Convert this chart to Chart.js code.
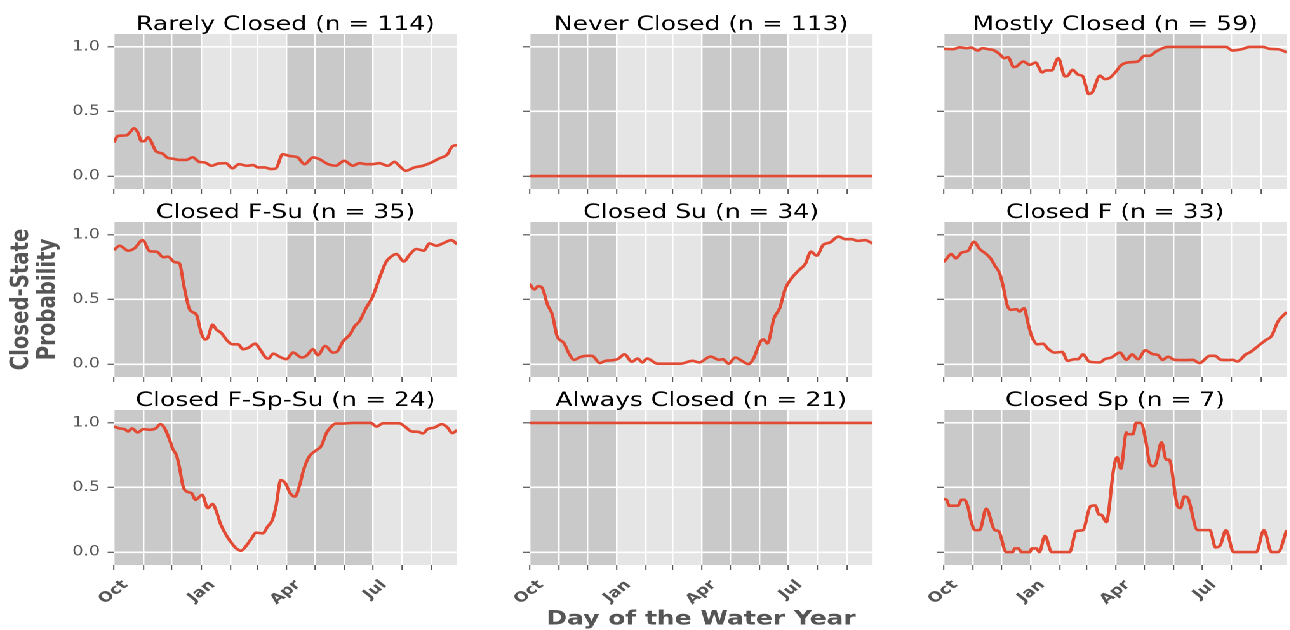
<!DOCTYPE html>
<html>
<head>
<meta charset="utf-8">
<script src="https://cdn.jsdelivr.net/npm/chart.js@4.4.1/dist/chart.umd.min.js"></script>
<style>
  html, body { margin: 0; padding: 0; background: #fff; overflow: hidden; width: 1290px; height: 630px; }
  /* the figure is laid out on a narrower grid and widened horizontally */
  #fig { position: absolute; left: 0; top: 0; width: 1015.75px; height: 630px; transform: scaleX(1.27); transform-origin: 0 0; }
  #fig canvas { position: absolute; }
</style>
</head>
<body>
<div id="fig"></div>
<script>
// ---- axes ----
const monthStarts = [0, 31, 61, 92, 123, 151, 182, 212, 243, 273, 304, 335]; // day of water year
const monthLabels = ['Oct', '', '', 'Jan', '', '', 'Apr', '', '', 'Jul', '', ''];
const probTicks = [0, 0.5, 1.0];
const darkSeasons = [[0, 92], [182, 273]]; // Oct-Dec and Apr-Jun shading

// ---- closed-state probability by day of water year: [day, probability] ----
const rarelyClosed = [[0,0.26],[4,0.31],[13,0.315],[17,0.34],[21,0.37],[25,0.34],[29,0.27],[32,0.27],[36,0.30],[39,0.27],
  [44,0.195],[48,0.18],[51,0.175],[57,0.14],[62,0.135],[69,0.125],[76,0.125],[83,0.145],[90,0.11],[96,0.105],
  [103,0.08],[110,0.097],[118,0.10],[125,0.06],[132,0.092],[140,0.08],[147,0.085],[152,0.067],[159,0.067],[166,0.054],
  [171,0.06],[178,0.17],[185,0.156],[194,0.144],[201,0.092],[210,0.144],[217,0.13],[226,0.092],[234,0.08],[243,0.118],
  [252,0.08],[259,0.10],[266,0.092],[273,0.092],[280,0.10],[289,0.08],[296,0.11],[301,0.08],[308,0.041],[317,0.067],
  [326,0.08],[335,0.105],[343,0.136],[352,0.169],[357,0.23],[362,0.24]];

const neverClosed = [[0,0],[362,0]];

const mostlyClosed = [[0,0.985],[10,0.982],[17,0.997],[24,0.99],[29,0.995],[36,0.972],[41,0.99],[47,0.982],[52,0.977],[59,0.946],
  [64,0.913],[68,0.92],[74,0.844],[77,0.849],[84,0.887],[91,0.862],[97,0.879],[104,0.803],[108,0.818],[114,0.818],
  [121,0.913],[128,0.772],[131,0.777],[136,0.823],[142,0.785],[147,0.772],[150,0.70],[153,0.636],[157,0.649],[165,0.777],
  [170,0.751],[175,0.759],[182,0.81],[187,0.856],[194,0.879],[205,0.887],[212,0.931],[217,0.931],[224,0.964],[233,0.995],
  [238,1],[298,1],[305,0.972],[316,0.985],[323,1],[337,1],[344,0.985],[353,0.982],[362,0.959]];

const closedFSu = [[0,0.883],[6,0.916],[15,0.878],[22,0.898],[30,0.959],[38,0.873],[45,0.87],[52,0.827],[57,0.832],[64,0.789],
  [69,0.781],[74,0.598],[80,0.42],[87,0.382],[92,0.242],[96,0.191],[99,0.204],[104,0.305],[108,0.267],[113,0.242],
  [120,0.178],[125,0.153],[131,0.153],[136,0.115],[142,0.127],[149,0.158],[154,0.115],[160,0.051],[163,0.043],[168,0.081],
  [175,0.056],[182,0.038],[189,0.089],[198,0.051],[203,0.064],[210,0.115],[215,0.069],[223,0.14],[231,0.089],[235,0.094],
  [242,0.178],[249,0.229],[254,0.293],[259,0.331],[266,0.433],[273,0.522],[280,0.662],[287,0.789],[294,0.84],[298,0.852],
  [306,0.794],[312,0.847],[319,0.891],[327,0.878],[333,0.934],[340,0.916],[347,0.934],[356,0.959],[362,0.929]];

const closedSu = [[0,0.623],[5,0.578],[9,0.603],[13,0.593],[19,0.458],[24,0.382],[29,0.216],[36,0.165],[42,0.076],[47,0.033],
  [54,0.056],[61,0.064],[66,0.064],[74,0.008],[80,0.025],[89,0.031],[94,0.043],[100,0.076],[108,0.018],[114,0.043],
  [119,0.013],[124,0.043],[135,0.003],[159,0.003],[172,0.025],[179,0.013],[191,0.058],[200,0.033],[204,0.038],[210,0.003],
  [217,0.051],[224,0.025],[231,0],[236,0.038],[244,0.178],[247,0.191],[251,0.16],[258,0.356],[264,0.433],[270,0.585],
  [277,0.669],[284,0.725],[291,0.776],[297,0.87],[303,0.84],[310,0.924],[317,0.941],[326,0.987],[333,0.967],[340,0.967],
  [346,0.954],[354,0.959],[362,0.934]];

const closedF = [[0,0.789],[3,0.814],[8,0.852],[13,0.819],[19,0.863],[26,0.878],[32,0.947],[38,0.891],[44,0.858],[50,0.814],
  [54,0.763],[59,0.705],[63,0.598],[67,0.458],[71,0.42],[77,0.425],[80,0.407],[85,0.433],[89,0.318],[93,0.216],
  [99,0.153],[105,0.158],[110,0.12],[117,0.089],[125,0.094],[131,0.025],[138,0.038],[142,0.038],[147,0.076],[154,0.018],
  [165,0.013],[170,0.038],[177,0.051],[186,0.089],[193,0.033],[199,0.076],[205,0.038],[213,0.107],[221,0.076],[226,0.071],
  [231,0.033],[237,0.056],[244,0.033],[256,0.031],[263,0.033],[270,0.008],[281,0.064],[286,0.064],[293,0.033],[300,0.031],
  [305,0.033],[310,0.02],[319,0.076],[324,0.094],[332,0.14],[340,0.186],[346,0.216],[353,0.331],[362,0.402]];

const closedFSpSu = [[0,0.972],[6,0.957],[11,0.952],[15,0.934],[19,0.957],[25,0.926],[31,0.952],[38,0.947],[44,0.957],[49,0.99],
  [53,0.964],[59,0.863],[62,0.799],[66,0.748],[69,0.659],[73,0.506],[77,0.468],[82,0.455],[86,0.405],[93,0.443],
  [99,0.341],[104,0.372],[108,0.316],[112,0.226],[118,0.137],[125,0.061],[130,0.023],[134,0.01],[140,0.053],[145,0.104],
  [150,0.15],[157,0.145],[162,0.196],[167,0.247],[171,0.354],[176,0.557],[181,0.532],[186,0.455],[191,0.43],[196,0.519],
  [200,0.634],[206,0.74],[213,0.786],[219,0.824],[224,0.919],[229,0.969],[234,0.995],[242,0.995],[252,1],[271,1],
  [277,0.972],[284,0.997],[301,0.997],[307,0.972],[314,0.934],[321,0.931],[326,0.919],[331,0.952],[338,0.964],[346,0.99],
  [352,0.964],[357,0.921],[362,0.944]];

const alwaysClosed = [[0,1],[362,1]];

const closedSp = [[0,0.41],[3,0.405],[6,0.359],[15,0.359],[19,0.405],[22,0.405],[26,0.341],[29,0.239],[33,0.17],[38,0.17],
  [45,0.336],[54,0.17],[58,0.163],[66,0],[73,0],[75,0.028],[79,0.028],[82,0],[91,0],[93,0.028],
  [98,0.028],[101,0],[107,0.125],[114,0],[133,0],[140,0.163],[147,0.17],[155,0.354],[160,0.361],[164,0.29],
  [166,0.29],[172,0.232],[174,0.303],[179,0.621],[183,0.735],[187,0.646],[193,0.926],[194,0.913],[200,0.913],[203,1],
  [208,1],[214,0.837],[217,0.697],[221,0.664],[224,0.684],[230,0.85],[235,0.715],[238,0.715],[247,0.354],[250,0.341],
  [254,0.43],[257,0.425],[268,0.17],[281,0.17],[287,0.036],[292,0.053],[298,0.17],[306,0],[330,0],[338,0.17],
  [346,0],[353,0],[362,0.17]];

const panelTitles = ['Rarely Closed (n = 114)', 'Never Closed (n = 113)', 'Mostly Closed (n = 59)',
  'Closed F-Su (n = 35)', 'Closed Su (n = 34)', 'Closed F (n = 33)',
  'Closed F-Sp-Su (n = 24)', 'Always Closed (n = 21)', 'Closed Sp (n = 7)'];
const panelSeries = [rarelyClosed, neverClosed, mostlyClosed, closedFSu, closedSu, closedF, closedFSpSu, alwaysClosed, closedSp];

// ---- grid of panels (plot-area boxes on the narrow grid) ----
const SX = 1.27;
const FONT = "'DejaVu Sans', sans-serif";
const colLeft = [114 / SX, 529 / SX, 944 / SX];
const plotW = 343 / SX;
const rowTop = [34, 222, 410];
const plotH = 155;
const titleH = 26;
const figH = 630;

// light panel background with darker seasonal bands
const seasonBands = {
  id: 'seasonBands',
  beforeDraw(chart) {
    const { ctx, chartArea: a, scales: { x } } = chart;
    ctx.save();
    ctx.fillStyle = '#e5e5e5';
    ctx.fillRect(a.left, a.top, a.width, a.height);
    ctx.fillStyle = '#c9c9c9';
    darkSeasons.forEach(([s, e]) => {
      const x0 = x.getPixelForValue(s), x1 = x.getPixelForValue(e);
      ctx.fillRect(x0, a.top, x1 - x0, a.height);
    });
    ctx.restore();
  }
};

const fig = document.getElementById('fig');

panelSeries.forEach((series, i) => {
  const row = Math.floor(i / 3), col = i % 3;
  const yw = col === 0 ? colLeft[0] : 30;
  const xh = row === 2 ? figH - (rowTop[2] + plotH) : 20;
  const w = Math.ceil(yw + plotW + 2);
  const padR = w - yw - plotW;
  const h = titleH + plotH + xh;

  const canvas = document.createElement('canvas');
  canvas.width = w;
  canvas.height = h;
  canvas.style.left = (colLeft[col] - yw) + 'px';
  canvas.style.top = (rowTop[row] - titleH) + 'px';
  fig.appendChild(canvas);

  new Chart(canvas, {
    type: 'line',
    data: {
      datasets: [{
        data: series.map(([d, v]) => ({ x: d, y: v })),
        borderColor: '#E24A33',
        borderWidth: 2.6,
        pointRadius: 0,
        cubicInterpolationMode: 'monotone',
        fill: false
      }]
    },
    options: {
      responsive: false,
      maintainAspectRatio: false,
      animation: false,
      devicePixelRatio: 2,
      layout: { padding: { left: 0, top: 0, right: padR, bottom: 0 } },
      plugins: {
        legend: { display: false },
        tooltip: { enabled: false },
        title: {
          display: true,
          text: panelTitles[i],
          fullSize: false,
          color: '#000',
          font: { family: FONT, size: 19.7, weight: 'normal', lineHeight: '18px' },
          padding: { top: 8, bottom: 0 }
        }
      },
      scales: {
        x: {
          type: 'linear',
          min: 0,
          max: 362,
          afterBuildTicks: (axis) => { axis.ticks = monthStarts.map(v => ({ value: v })); },
          afterFit: (scale) => { scale.height = xh; },
          border: { display: false },
          grid: { color: '#ffffff', lineWidth: 1.2, tickColor: '#555555', tickLength: 5, tickWidth: 1 },
          ticks: {
            autoSkip: false,
            minRotation: 45,
            maxRotation: 45,
            padding: 7,
            labelOffset: 9,
            color: '#555555',
            font: { family: FONT, size: 13.8, weight: 'bold' },
            callback: (v, idx) => (row === 2 ? monthLabels[idx] : '')
          },
          title: (row === 2 && col === 1) ? {
            display: true,
            text: 'Day of the Water Year',
            color: '#555555',
            font: { family: FONT, size: 19.7, weight: 'bold', lineHeight: '20px' },
            padding: { top: 0, bottom: 0.5 }
          } : { display: false }
        },
        y: {
          type: 'linear',
          min: -0.1,
          max: 1.1,
          afterBuildTicks: (axis) => { axis.ticks = probTicks.map(v => ({ value: v })); },
          afterFit: (scale) => { scale.width = yw; },
          border: { display: false },
          grid: { color: '#ffffff', lineWidth: 1.6, tickColor: '#555555', tickLength: 5, tickWidth: 1.2 },
          ticks: {
            padding: 6,
            color: '#555555',
            font: { family: FONT, size: 13.8 },
            callback: (v) => (col === 0 ? Number(v).toFixed(1) : '')
          },
          title: (row === 1 && col === 0) ? {
            display: true,
            text: ['Closed-State', 'Probability'],
            color: '#555555',
            font: { family: FONT, size: 19.7, weight: 'bold', lineHeight: '21px' },
            padding: { top: 6.5, bottom: 0 }
          } : { display: false }
        }
      }
    },
    plugins: [seasonBands]
  });
});
</script>
</body>
</html>
